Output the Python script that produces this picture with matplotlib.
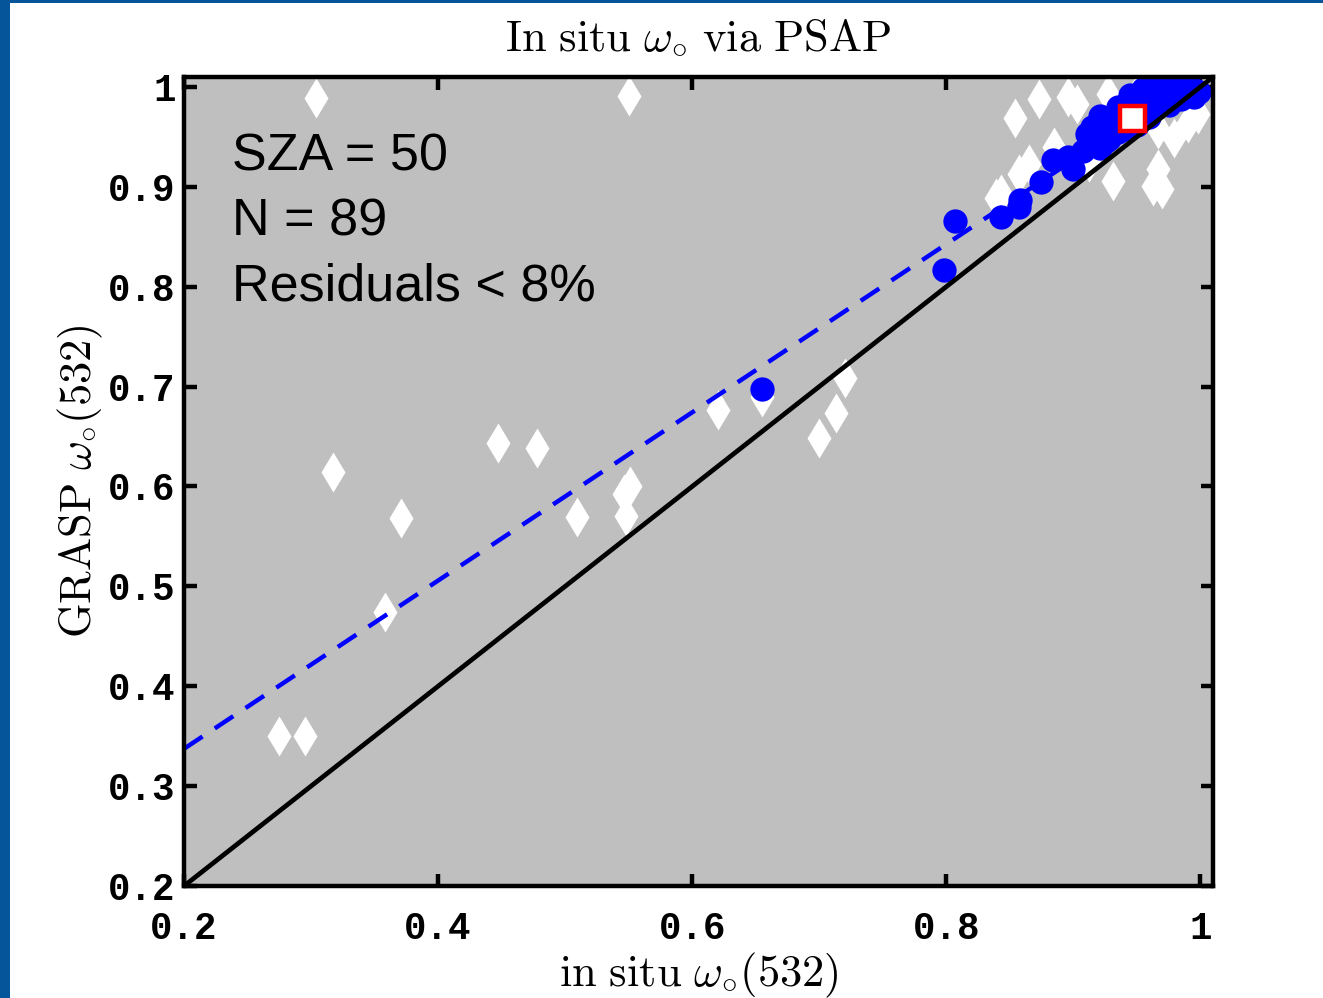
import matplotlib
matplotlib.use("Agg")
import matplotlib.pyplot as plt
from matplotlib.patches import Rectangle

# ---------------- data ----------------
excl_x = [0.304, 0.550, 0.317, 0.371, 0.358, 0.275, 0.295, 0.447, 0.478, 0.509,
          0.548, 0.546, 0.551, 0.620, 0.655, 0.700, 0.713, 0.720, 0.839, 0.843,
          0.857, 0.865, 0.854, 0.873, 0.896, 0.903, 0.931, 0.927, 0.953, 0.967,
          0.963, 0.970, 0.979, 0.967, 0.990, 0.998, 0.885, 0.912]
excl_y = [0.989, 0.991, 0.615, 0.568, 0.474, 0.350, 0.350, 0.644, 0.639, 0.569,
          0.570, 0.592, 0.600, 0.677, 0.690, 0.649, 0.674, 0.709, 0.889, 0.893,
          0.913, 0.923, 0.969, 0.988, 0.990, 0.983, 0.906, 0.993, 1.000, 0.918,
          0.901, 0.898, 0.949, 0.958, 0.964, 0.973, 0.940, 0.925]

kept_x = [0.655, 0.798, 0.807, 0.843, 0.857, 0.858, 0.875, 0.884, 0.896, 0.900,
          0.908, 0.921, 0.911, 0.918, 0.921, 0.930, 0.935, 0.928, 0.940, 0.945,
          0.952, 0.958, 0.962, 0.968, 0.972, 0.975, 0.980, 0.984, 0.988, 0.992,
          0.996, 0.999, 0.955, 0.965, 0.975, 0.985, 0.995, 0.960, 0.950, 0.940,
          0.925, 0.915, 0.935, 0.945, 0.955, 0.965, 0.930, 0.915]
kept_y = [0.698, 0.817, 0.866, 0.870, 0.880, 0.887, 0.905, 0.927, 0.930, 0.918,
          0.936, 0.939, 0.953, 0.958, 0.971, 0.960, 0.955, 0.948, 0.975, 0.985,
          0.990, 0.985, 0.993, 0.995, 0.988, 0.997, 0.993, 0.998, 0.995, 0.999,
          0.997, 0.995, 0.975, 0.980, 0.982, 0.988, 0.990, 0.970, 0.962, 0.958,
          0.945, 0.942, 0.980, 0.992, 0.998, 1.000, 0.968, 0.960]

mean_x = [0.946]
mean_y = [0.969]

fit_slope = 0.842
fit_intercept = 0.169

xlim = (0.2, 1.01)
ylim = (0.2, 1.01)
xticks = [0.2, 0.4, 0.6, 0.8, 1.0]
xticklabels = ["0.2", "0.4", "0.6", "0.8", "1"]
yticks = [0.2, 0.3, 0.4, 0.5, 0.6, 0.7, 0.8, 0.9, 1.0]
yticklabels = ["0.2", "0.3", "0.4", "0.5", "0.6", "0.7", "0.8", "0.9", "1"]

annot_lines = ["SZA = 50", "N = 89", "Residuals < 8%"]

# ---------------- figure ----------------
plt.rcParams['mathtext.fontset'] = 'cm'
W, H = 1323, 998
fig = plt.figure(figsize=(W / 100, H / 100), dpi=100)
fig.patch.set_facecolor('white')

# slide frame
border = '#04559a'
fig.patches.append(Rectangle((0, 0), 10 / W, 1, transform=fig.transFigure,
                             facecolor=border, edgecolor='none', zorder=10))
fig.patches.append(Rectangle((0, 1 - 3 / H), 1, 3 / H, transform=fig.transFigure,
                             facecolor=border, edgecolor='none', zorder=10))

ax_l, ax_r, ax_t, ax_b = 184, 1213, 77, 886
ax = fig.add_axes([ax_l / W, 1 - ax_b / H, (ax_r - ax_l) / W, (ax_b - ax_t) / H])
ax.set_facecolor('#bfbfbf')
ax.set_xlim(*xlim)
ax.set_ylim(*ylim)

ax.plot(excl_x, excl_y, linestyle='none', marker='d', ms=20, mfc='white',
        mec='none', zorder=2)
ax.plot(kept_x, kept_y, linestyle='none', marker='o', ms=17.5, mfc='#0000ff',
        mec='none', zorder=3)
xs = [xlim[0], xlim[1]]
ax.plot(xs, [fit_intercept + fit_slope * v for v in xs], color='#0000ff', lw=3.2,
        dashes=(5, 3.3), zorder=4)
ax.plot(xs, xs, color='black', lw=3.4, zorder=5)
ax.plot(mean_x, mean_y, linestyle='none', marker='s', ms=18, mfc='white',
        mec='#ff0000', mew=3.2, zorder=6)

for s in ax.spines.values():
    s.set_linewidth(3.2)
    s.set_color('black')
    s.set_zorder(7)

ax.set_xticks(xticks)
ax.set_xticklabels(xticklabels)
ax.set_yticks(yticks)
ax.set_yticklabels(yticklabels)
ax.tick_params(direction='in', length=9, width=3.2, top=True, right=True,
               labelsize=27)
ax.tick_params(axis='x', pad=18)
ax.tick_params(axis='y', pad=6)
for lab in ax.get_xticklabels() + ax.get_yticklabels():
    lab.set_family('Liberation Mono')
    lab.set_fontweight('bold')

ax.set_title(r'$\mathrm{In\ situ}\ \omega_{\circ}\ \mathrm{via\ PSAP}$',
             fontsize=32, pad=20)
ax.set_xlabel(r'$\mathrm{in\ situ}\ \omega_{\circ}(532)$', fontsize=32, labelpad=3)
ax.set_ylabel(r'$\mathrm{GRASP}\ \omega_{\circ}(532)$', fontsize=32, labelpad=2)

for i, t in enumerate(annot_lines):
    ax.text((232 - ax_l) / (ax_r - ax_l), 1 - (157 - ax_t + 65 * i) / (ax_b - ax_t), t,
            transform=ax.transAxes, fontsize=37.5, family='Liberation Sans',
            va='center', ha='left', zorder=8)

fig.savefig('out.png', dpi=100)
